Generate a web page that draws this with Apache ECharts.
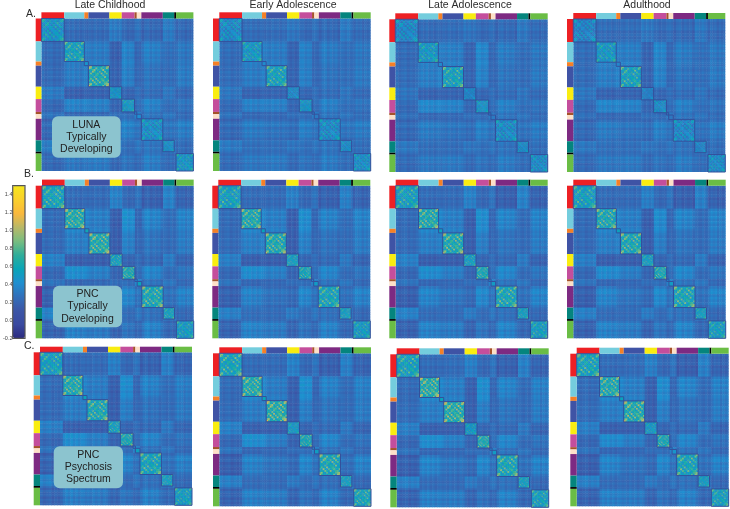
<!DOCTYPE html>
<html><head><meta charset="utf-8">
<style>html,body{margin:0;padding:0;background:#fff}#c{width:730px;height:509px}</style>
<script src="https://cdn.jsdelivr.net/npm/echarts@6/dist/echarts.min.js"></script>
</head><body><div id="c"></div>
<script>
// ---- network labels and sizes (parcels), top/left strip order
const networkSizes  = [50,44,9,46,27,28,5,10,47,25,4,38];
const networkColors = ['#ed2024','#74cddd','#f58026','#3f53a5','#f9ed10','#c44e9c','#a5522a','#fde0c8','#7d2a82','#05857d','#000000','#6abd45'];
const columnTitles  = ['Late Childhood','Early Adolescence','Late Adolescence','Adulthood'];
const rowLetters    = ['A.','B.','C.'];
const colorbarTicks = [-0.2,0,0.2,0.4,0.6,0.8,1.0,1.2,1.4];
const cohortLabels  = [['LUNA','Typically','Developing'],['PNC','Typically','Developing'],['PNC','Psychosis','Spectrum']];

// ---- mean connectivity between networks (upper triangle)
const lunaLateChildhood = [
 [.46,.23,.21,.23,.31,.21,.27,.27,.21,.31,.25,.22],
 [.56,.32,.31,.17,.34,.19,.21,.32,.25,.25,.29],
 [.46,.33,.19,.35,.19,.21,.29,.25,.25,.29],
 [.64,.19,.33,.20,.22,.27,.24,.24,.31],
 [.44,.20,.25,.25,.24,.29,.25,.22],
 [.48,.21,.25,.33,.24,.24,.27],
 [.38,.35,.27,.27,.27,.21],
 [.42,.27,.29,.27,.23],
 [.42,.27,.27,.31],
 [.42,.29,.23],
 [.30,.24],
 [.46]];
const lunaEarlyAdolescence = [
 [.40,.24,.22,.24,.29,.22,.27,.26,.22,.30,.25,.23],
 [.48,.33,.31,.19,.33,.20,.21,.30,.25,.25,.29],
 [.40,.33,.20,.33,.20,.21,.28,.25,.25,.28],
 [.56,.20,.33,.21,.22,.27,.25,.25,.30],
 [.38,.21,.25,.25,.24,.28,.25,.23],
 [.44,.22,.24,.32,.25,.25,.27],
 [.32,.32,.26,.27,.27,.22],
 [.32,.27,.28,.27,.24],
 [.40,.27,.27,.30],
 [.40,.28,.24],
 [.30,.25],
 [.42]];
const lunaLateAdolescence = [
 [.38,.23,.22,.24,.28,.22,.26,.25,.22,.29,.25,.23],
 [.48,.33,.32,.19,.36,.20,.21,.30,.24,.24,.29],
 [.40,.34,.20,.36,.20,.21,.28,.24,.24,.28],
 [.56,.20,.34,.21,.22,.27,.24,.24,.30],
 [.36,.21,.25,.25,.24,.28,.25,.23],
 [.44,.22,.24,.32,.25,.25,.27],
 [.32,.31,.26,.27,.27,.22],
 [.32,.27,.28,.27,.24],
 [.40,.26,.26,.30],
 [.40,.27,.24],
 [.30,.25],
 [.40]];
const lunaAdulthood = [
 [.36,.24,.22,.24,.29,.22,.26,.25,.22,.29,.25,.23],
 [.48,.33,.32,.19,.35,.20,.21,.30,.25,.25,.29],
 [.38,.34,.20,.35,.20,.21,.28,.25,.25,.28],
 [.56,.20,.34,.21,.22,.27,.25,.25,.30],
 [.34,.21,.25,.25,.24,.28,.25,.23],
 [.40,.22,.24,.32,.25,.25,.27],
 [.30,.31,.26,.27,.27,.22],
 [.30,.27,.28,.27,.24],
 [.38,.26,.26,.30],
 [.36,.27,.24],
 [.30,.25],
 [.40]];
const pncTdLateChildhood = [
 [.58,.23,.22,.23,.34,.21,.27,.27,.17,.34,.25,.19],
 [.66,.37,.32,.16,.40,.19,.20,.34,.24,.24,.34],
 [.60,.33,.17,.37,.19,.21,.29,.24,.24,.31],
 [.66,.16,.33,.19,.22,.27,.23,.23,.31],
 [.54,.20,.24,.24,.22,.31,.24,.20],
 [.62,.21,.24,.35,.23,.23,.27],
 [.42,.37,.25,.27,.27,.20],
 [.56,.27,.29,.27,.22],
 [.62,.25,.25,.33],
 [.54,.27,.21],
 [.32,.22],
 [.50]];
const pncTdEarlyAdolescence = [
 [.54,.23,.22,.23,.33,.21,.27,.27,.17,.33,.25,.19],
 [.64,.37,.32,.16,.39,.19,.20,.33,.24,.24,.34],
 [.56,.33,.17,.37,.19,.21,.28,.24,.24,.31],
 [.64,.16,.33,.19,.22,.26,.23,.23,.31],
 [.52,.20,.24,.24,.22,.30,.24,.20],
 [.58,.21,.24,.35,.23,.23,.27],
 [.38,.35,.25,.27,.27,.20],
 [.50,.26,.29,.27,.22],
 [.58,.25,.25,.33],
 [.52,.27,.21],
 [.32,.22],
 [.50]];
const pncTdLateAdolescence = [
 [.54,.23,.22,.23,.34,.21,.28,.27,.16,.34,.25,.18],
 [.64,.37,.32,.16,.39,.19,.20,.34,.23,.23,.34],
 [.56,.33,.17,.37,.19,.21,.28,.23,.23,.31],
 [.64,.16,.32,.19,.22,.27,.23,.23,.31],
 [.52,.20,.24,.24,.22,.31,.24,.19],
 [.60,.21,.24,.36,.23,.23,.28],
 [.40,.35,.25,.27,.27,.20],
 [.50,.27,.29,.27,.22],
 [.60,.25,.25,.34],
 [.52,.27,.21],
 [.32,.21],
 [.52]];
const pncTdAdulthood = [
 [.54,.23,.22,.23,.33,.21,.28,.27,.16,.33,.25,.18],
 [.62,.36,.32,.16,.38,.19,.20,.34,.23,.23,.34],
 [.54,.33,.17,.37,.19,.21,.28,.23,.23,.31],
 [.62,.16,.32,.19,.22,.27,.23,.23,.31],
 [.52,.20,.24,.24,.22,.31,.24,.19],
 [.60,.21,.24,.36,.23,.23,.28],
 [.40,.35,.25,.27,.27,.20],
 [.50,.27,.29,.27,.22],
 [.60,.25,.25,.34],
 [.52,.27,.21],
 [.32,.21],
 [.52]];
const psLateChildhood = [
 [.54,.23,.22,.23,.33,.21,.27,.27,.18,.33,.25,.20],
 [.64,.36,.31,.17,.39,.19,.20,.33,.24,.24,.32],
 [.56,.32,.17,.37,.19,.21,.28,.24,.24,.30],
 [.62,.17,.32,.19,.22,.26,.23,.23,.30],
 [.54,.20,.24,.24,.22,.30,.24,.21],
 [.60,.21,.24,.34,.23,.23,.27],
 [.40,.35,.25,.27,.27,.21],
 [.54,.26,.28,.27,.22],
 [.58,.25,.25,.32],
 [.52,.27,.22],
 [.32,.22],
 [.52]];
const psEarlyAdolescence = [
 [.58,.23,.22,.23,.34,.21,.28,.27,.16,.33,.25,.19],
 [.66,.37,.31,.17,.40,.19,.20,.33,.23,.23,.33],
 [.58,.32,.17,.38,.19,.21,.28,.23,.23,.30],
 [.68,.17,.32,.19,.22,.27,.23,.23,.31],
 [.48,.19,.24,.24,.22,.30,.24,.20],
 [.60,.21,.24,.35,.23,.23,.27],
 [.40,.35,.25,.27,.27,.20],
 [.52,.26,.28,.27,.22],
 [.62,.24,.24,.33],
 [.52,.27,.21],
 [.32,.22],
 [.58]];
const psLateAdolescence = [
 [.56,.23,.22,.24,.33,.21,.27,.27,.17,.33,.25,.19],
 [.68,.37,.32,.17,.39,.19,.20,.34,.23,.23,.33],
 [.56,.33,.17,.38,.19,.21,.28,.23,.23,.31],
 [.68,.17,.32,.19,.22,.27,.23,.23,.31],
 [.48,.20,.24,.24,.22,.30,.24,.20],
 [.62,.21,.24,.35,.23,.23,.27],
 [.40,.35,.25,.27,.27,.20],
 [.50,.26,.28,.27,.22],
 [.60,.25,.25,.33],
 [.52,.27,.21],
 [.32,.22],
 [.54]];
const psAdulthood = [
 [.58,.23,.22,.24,.33,.21,.27,.27,.16,.33,.25,.19],
 [.64,.37,.32,.17,.38,.19,.20,.34,.23,.23,.33],
 [.56,.33,.17,.38,.19,.21,.28,.23,.23,.31],
 [.66,.17,.32,.19,.22,.27,.23,.23,.31],
 [.48,.20,.24,.24,.22,.30,.24,.20],
 [.60,.21,.24,.35,.23,.23,.27],
 [.40,.35,.25,.27,.27,.20],
 [.46,.26,.28,.27,.22],
 [.58,.25,.25,.33],
 [.50,.27,.21],
 [.32,.22],
 [.54]];

// ---- fine structure seen in the picture: stripes along each network, mottling inside a module
const bandOffsets = [
 [.03,-.02,.01,.03,-.03,.01,-.02,.02],
 [-.02,.03,-.01,.04,-.02,.02,-.03,.01],
 [.02,-.01],
 [.01,-.02,.03,-.01,.02,-.03,.02,-.01],
 [.03,-.02,.02,-.03,.01],
 [.02,.03,-.02,.01,-.01],
 [0],
 [.02,-.01],
 [-.04,.03,.05,-.02,.03,-.01,.02,-.05],
 [.03,.01,-.02,.03,-.01],
 [0],
 [-.03,.04,0,.03,-.04,.02,-.02,.01]];
const moduleMottle = [
 [1.5,1.6,0.8,1.1,0.7,1.0,0.8,0.9,1.2,0.7,1.3,1.7],
 [1.6,1.3,0.9,0.7,1.4,0.8,1.0,1.3,0.7,1.0,1.5,1.2],
 [0.8,0.9,1.2,1.5,0.8,1.1,0.7,1.0,1.6,0.8,0.9,0.8],
 [1.1,0.7,1.5,1.2,0.9,0.7,1.3,0.8,0.9,1.4,0.7,1.0],
 [0.7,1.4,0.8,0.9,1.1,1.2,0.7,1.5,0.7,1.0,1.3,0.8],
 [1.0,0.8,1.1,0.7,1.2,1.0,0.9,0.7,1.3,0.8,0.7,1.1],
 [0.8,1.0,0.7,1.3,0.7,0.9,1.1,1.0,0.8,1.5,0.9,0.7],
 [0.9,1.3,1.0,0.8,1.5,0.7,1.0,1.2,1.1,0.7,1.0,0.9],
 [1.2,0.7,1.6,0.9,0.7,1.3,0.8,1.1,1.3,1.0,0.8,1.4],
 [0.7,1.0,0.8,1.4,1.0,0.8,1.5,0.7,1.0,1.2,1.3,0.8],
 [1.3,1.5,0.9,0.7,1.3,0.7,0.9,1.0,0.8,1.3,1.4,1.6],
 [1.7,1.2,0.8,1.0,0.8,1.1,0.7,0.9,1.4,0.8,1.6,1.5]];

const panelMatrices = [
 lunaLateChildhood,lunaEarlyAdolescence,lunaLateAdolescence,lunaAdulthood,
 pncTdLateChildhood,pncTdEarlyAdolescence,pncTdLateAdolescence,pncTdAdulthood,
 psLateChildhood,psEarlyAdolescence,psLateAdolescence,psAdulthood];

// ---- layout (pixels): heat x0,x1,y0,y1, then top strip y and left strip x
const panelBoxes = [
 [41.4,193.4,18.5,171,12.3,35.7],[219.3,370.7,18.5,171,12.3,213],[395.3,547.7,19.3,172,13.3,389.3],[573.3,725.3,19,172,13,567],
 [42,193.7,185.7,338.3,179.6,35.7],[218.3,370.3,185.7,338.3,179.8,212.3],[395.7,547.7,185.7,338.3,179.7,389.3],[573.3,725.7,185.7,338.3,179.7,567],
 [40,192,352.3,505.3,346.7,33.7],[219.3,371,353.3,506.3,347.3,213],[396.7,548.7,354.3,507.3,348.3,390.3],[576.7,728.7,353.7,506.3,347.7,570.3]];
const titleCenters = [110,293,470,647];
const letterPos = [[26,9],[24,169],[24,341]];
const cohortBoxes = [[52,116.3,68.7,41.4],[53,285.7,69,41.6],[53.7,446.3,69.3,42]];
const textColor = '#2b2b2b', fontFamily = '"Liberation Sans", Arial, sans-serif';

const total = networkSizes.reduce((a,b)=>a+b,0);
const starts = []; networkSizes.reduce((a,b,i)=>(starts[i]=a,a+b),0);
function meanOf(m,i,j){ const a=Math.min(i,j), b=Math.max(i,j); return m[a][b-a]; }

function cellsFor(m){
  const out=[];
  networkSizes.forEach((si,i)=>{
    networkSizes.forEach((sj,j)=>{
      if(i===j){
        const n = si>=20 ? moduleMottle.length : 1;
        for(let a=0;a<n;a++) for(let b=0;b<n;b++){
          const v = m[i][0]*(n>1?moduleMottle[a][b]:1);
          out.push([starts[j]+b*sj/n,starts[j]+(b+1)*sj/n,starts[i]+a*si/n,starts[i]+(a+1)*si/n,v]);
        }
      } else {
        const bi=bandOffsets[i], bj=bandOffsets[j];
        bi.forEach((oi,a)=>bj.forEach((oj,b)=>{
          out.push([starts[j]+b*sj/bj.length,starts[j]+(b+1)*sj/bj.length,starts[i]+a*si/bi.length,starts[i]+(a+1)*si/bi.length,meanOf(m,i,j)+oi+oj]);
        }));
      }
    });
  });
  return out;
}

const grids=[],xAxes=[],yAxes=[],series=[],cellSeriesIdx=[];
function addGrid(l,t,w,h,ymax,inv){
  grids.push({left:l,top:t,width:w,height:h,containLabel:false,show:false});
  const g=grids.length-1;
  xAxes.push({type:'value',gridIndex:g,min:0,max:total,show:false});
  yAxes.push({type:'value',gridIndex:g,min:0,max:ymax,inverse:!!inv,show:false});
  return g;
}
function renderCell(p,api){
  const a=api.coord([api.value(0),api.value(2)]), b=api.coord([api.value(1),api.value(3)]);
  const cs=p.coordSys;
  const w=Math.min(b[0]-a[0]+0.5,cs.x+cs.width-a[0]), h=Math.min(b[1]-a[1]+0.5,cs.y+cs.height-a[1]);
  return {type:'rect',shape:{x:a[0],y:a[1],width:w,height:h},style:{fill:api.visual('color')}};
}
function renderStrip(p,api){
  const a=api.coord([api.value(0),api.value(2)]), b=api.coord([api.value(1),api.value(3)]);
  return {type:'rect',shape:{x:a[0],y:a[1],width:b[0]-a[0],height:b[1]-a[1]},style:{fill:networkColors[api.value(4)]}};
}
function renderBox(p,api){
  const a=api.coord([api.value(0),api.value(2)]), b=api.coord([api.value(1),api.value(3)]);
  return {type:'rect',shape:{x:a[0],y:a[1],width:b[0]-a[0],height:b[1]-a[1]},style:{fill:'none',stroke:'#34509c',lineWidth:1}};
}
const base={type:'custom',animation:false,silent:true,progressive:0,encode:{x:[0,1],y:[2,3]}};

panelBoxes.forEach((r,k)=>{
  const [x0,x1,y0,y1,ty,lx]=r;
  const g=addGrid(x0,y0,x1-x0,y1-y0,total,true);
  cellSeriesIdx.push(series.length);
  series.push({...base,xAxisIndex:g,yAxisIndex:g,renderItem:renderCell,data:cellsFor(panelMatrices[k]),z:2});
  series.push({...base,xAxisIndex:g,yAxisIndex:g,renderItem:renderBox,z:3,
    data:networkSizes.map((s,i)=>[starts[i],starts[i]+s,starts[i],starts[i]+s,i]).filter(d=>d[4]!==10)});
  const gt=addGrid(x0,ty,x1-x0,y0-ty,1,true);
  series.push({...base,xAxisIndex:gt,yAxisIndex:gt,renderItem:renderStrip,data:networkSizes.map((s,i)=>[starts[i],starts[i]+s,0,1,i])});
  const gl=addGrid(lx,y0,x0-lx,y1-y0,total,true);
  xAxes[gl].max=1;
  series.push({...base,xAxisIndex:gl,yAxisIndex:gl,renderItem:renderStrip,data:networkSizes.map((s,i)=>[0,1,starts[i],starts[i]+s,i])});
});

// colour bar axis
grids.push({left:12.7,top:185.7,width:12.3,height:152.6,show:false});
const cb=grids.length-1;
xAxes.push({type:'value',gridIndex:cb,min:0,max:1,show:false});
yAxes.push({type:'value',gridIndex:cb,min:-0.2,max:1.5,interval:0.2,
  axisLine:{show:false},splitLine:{show:false},
  axisTick:{show:true,length:1.5,inside:false,customValues:colorbarTicks,lineStyle:{color:'#444',width:1}},
  axisLabel:{customValues:colorbarTicks,margin:3,fontSize:5.5,color:'#444',fontFamily,formatter:v=>v.toFixed(1)}});
series.push({type:'custom',xAxisIndex:cb,yAxisIndex:cb,silent:true,animation:false,data:[],renderItem:()=>null});

const graphic=[];
cohortBoxes.forEach((b,i)=>{
  graphic.push({type:'rect',z:50,shape:{x:b[0],y:b[1],width:b[2],height:b[3],r:6},style:{fill:'#8cc4cf'}});
  cohortLabels[i].forEach((t,j)=>graphic.push({type:'text',z:51,style:{
    x:b[0]+b[2]/2,y:b[1]+8.5+j*12.4,text:t,fill:'#222',fontSize:10.5,fontFamily,textAlign:'center',textVerticalAlign:'middle'}}));
});
graphic.push({type:'rect',z:50,shape:{x:12.7,y:185.7,width:12.3,height:152.6},style:{fill:'none',stroke:'#555',lineWidth:1.2}});

const titles=[];
columnTitles.forEach((t,i)=>titles.push({text:t,left:titleCenters[i],top:0,textAlign:'center',padding:0,
  textStyle:{fontSize:10.5,fontWeight:'normal',color:textColor,fontFamily}}));
rowLetters.forEach((t,i)=>titles.push({text:t,left:letterPos[i][0],top:letterPos[i][1],padding:0,
  textStyle:{fontSize:10.5,fontWeight:'normal',color:textColor,fontFamily}}));

const chart=echarts.init(document.getElementById('c'),null,{renderer:'canvas'});
chart.setOption({
  animation:false,backgroundColor:'#fff',title:titles,grid:grids,xAxis:xAxes,yAxis:yAxes,series,graphic,
  tooltip:{show:false},
  visualMap:{type:'continuous',min:-0.2,max:1.5,dimension:4,seriesIndex:cellSeriesIdx,show:true,calculable:false,
    realtime:false,hoverLink:false,left:12.7,top:185.7,itemWidth:12.3,itemHeight:152.6,padding:0,text:null,
    inRange:{color:['#2b2a7f','#3a4aa0','#3c56a6','#3270ba','#1f8fd0','#09a5b8','#2fae9a','#78bd80','#b8b868','#fab83c','#fad02c','#f5e61c']}}
});
</script></body></html>
